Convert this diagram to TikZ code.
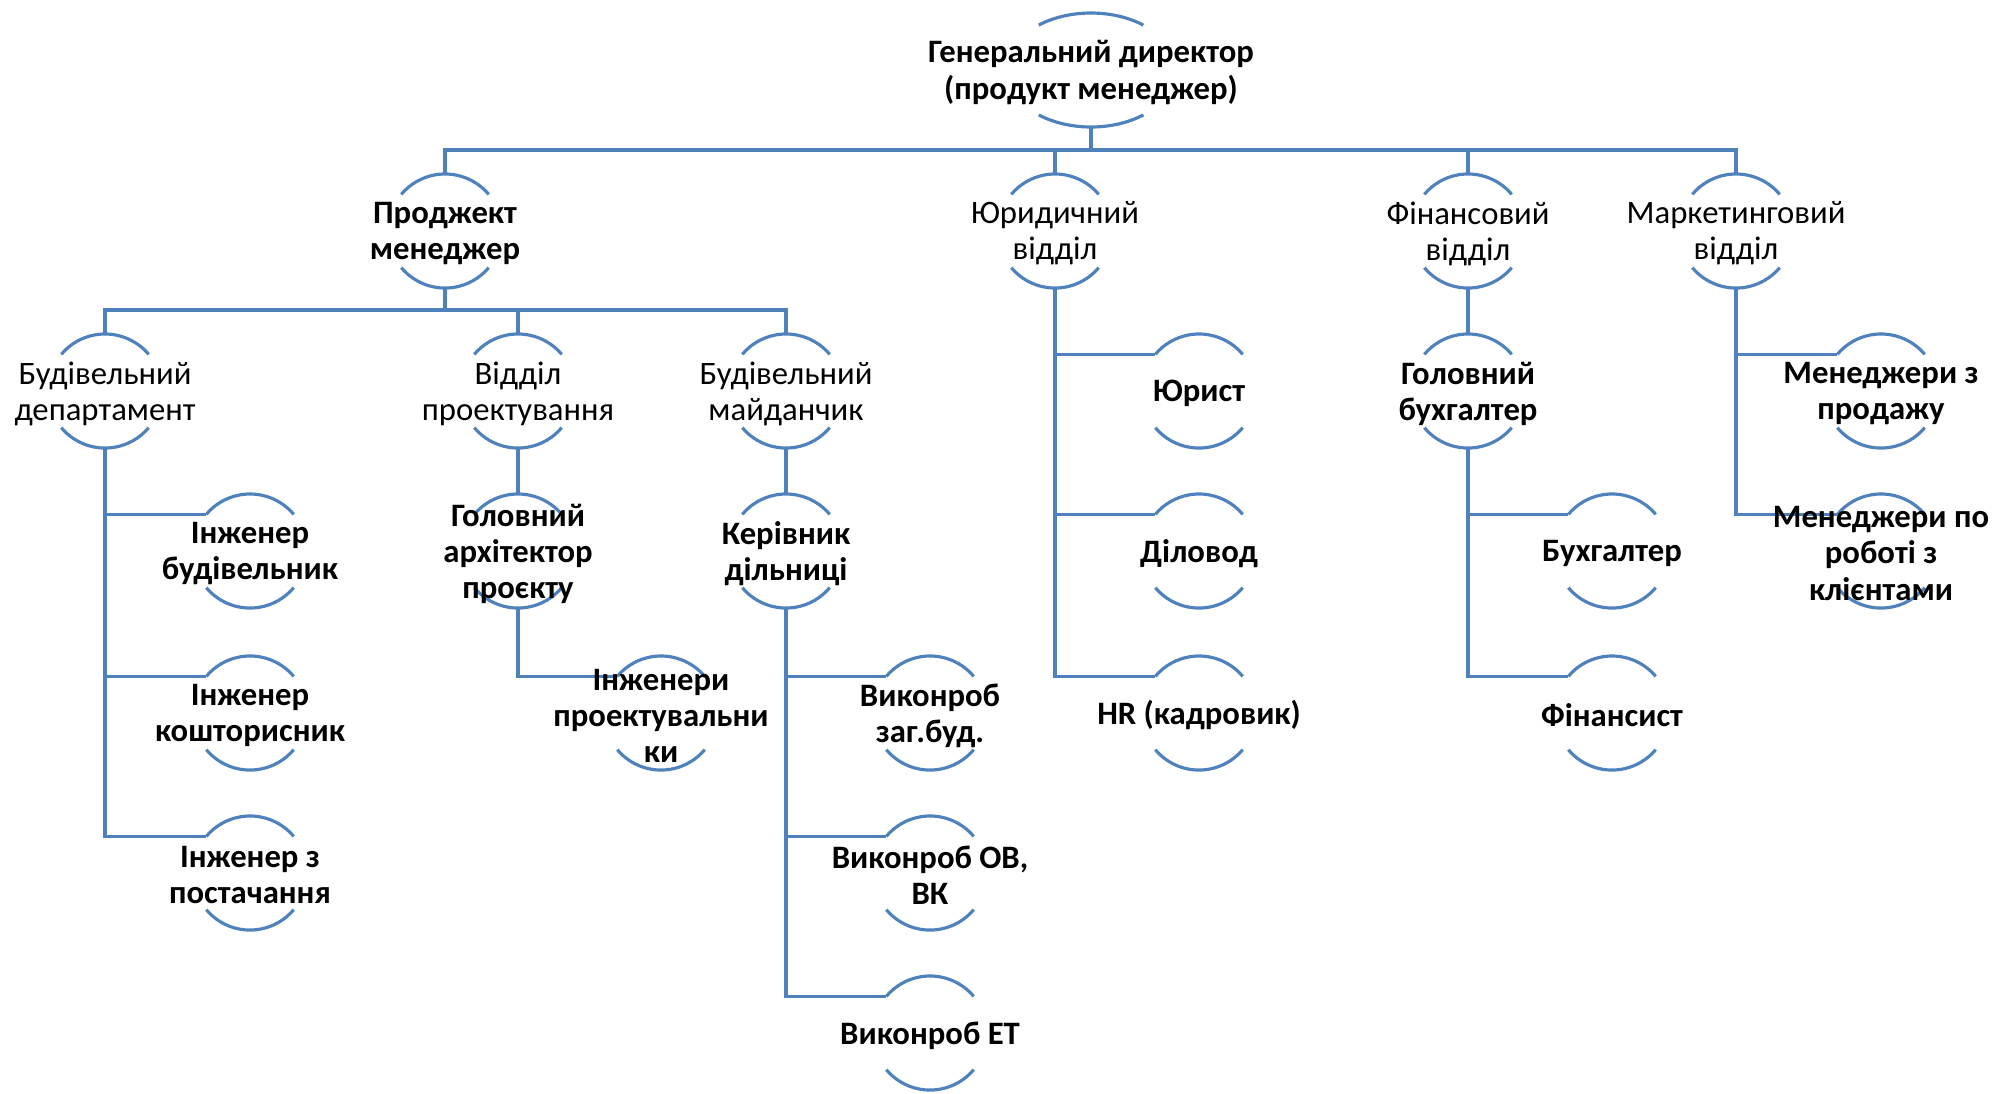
\documentclass[tikz,border=0pt]{standalone}
\usepackage{fontspec}
\setmainfont{Carlito}
\usepackage{tikz}
\usetikzlibrary{calc}

\definecolor{linkblue}{RGB}{79,129,189}

\tikzset{
    link/.style={draw=linkblue, line width=0.9pt},
    ring/.style={circle, minimum size=1.14cm, inner sep=0pt, outer sep=0pt},
    dept/.style={align=center, inner sep=0pt, yshift=-0.7pt, font=\fontsize{9.3}{10.25}\selectfont},
    staff/.style={dept, font=\fontsize{9.3}{10.25}\selectfont\bfseries},
}

% top and bottom arcs of a round node
\newcommand\ringarcs[1]{%
    \draw[link] (#1.40) arc[start angle=40, end angle=140, radius=0.57cm]
                (#1.220) arc[start angle=220, end angle=320, radius=0.57cm];}

\begin{document}
\begin{tikzpicture}[x=0.01cm, y=0.01cm]
    \useasboundingbox (0,0) rectangle (2010,-1093);

    % round nodes
    \node[ring] (ceo) at (1091,-70) {};
    \node[ring] (pm)  at (445,-231) {};
    \node[ring] (ju)  at (1055,-231) {};
    \node[ring] (fin) at (1468,-231) {};
    \node[ring] (mk)  at (1736,-231) {};
    \node[ring] (bd)  at (105,-391) {};
    \node[ring] (vp)  at (518,-391) {};
    \node[ring] (bm)  at (786,-391) {};
    \node[ring] (ib)  at (250,-551) {};
    \node[ring] (ik)  at (250,-713) {};
    \node[ring] (ip)  at (250,-873) {};
    \node[ring] (ga)  at (518,-551) {};
    \node[ring] (ipr) at (661,-713) {};
    \node[ring] (kd)  at (786,-551) {};
    \node[ring] (vz)  at (930,-713) {};
    \node[ring] (vo)  at (930,-873) {};
    \node[ring] (ve)  at (930,-1033) {};
    \node[ring] (yur) at (1199,-391) {};
    \node[ring] (dil) at (1199,-551) {};
    \node[ring] (hr)  at (1199,-713) {};
    \node[ring] (gb)  at (1468,-391) {};
    \node[ring] (bux) at (1612,-551) {};
    \node[ring] (fns) at (1612,-713) {};
    \node[ring] (mp)  at (1881,-391) {};
    \node[ring] (mkl) at (1881,-551) {};

    % the director is wider
    \draw[link] ($(ceo)+(52:85 and 57)$) arc[start angle=52, end angle=128, x radius=85, y radius=57]
                ($(ceo)+(232:85 and 57)$) arc[start angle=232, end angle=308, x radius=85, y radius=57];
    \foreach \n in {pm,ju,fin,mk,bd,vp,bm,ib,ik,ip,ga,ipr,kd,vz,vo,ve,yur,dil,hr,gb,bux,fns,mp,mkl}
        {\ringarcs{\n}}

    % connectors
    \coordinate (bar1) at (1091,-150);
    \coordinate (bar2) at (445,-310);
    \draw[link] (ceo.south) -- (bar1);
    \draw[link] (pm.north) |- (bar1) -| (mk.north);
    \draw[link] (ju.north) |- (bar1);
    \draw[link] (fin.north) |- (bar1);
    \draw[link] (pm.south) -- (bar2);
    \draw[link] (bd.north) |- (bar2) -| (bm.north);
    \draw[link] (vp.north) |- (bar2);
    \draw[link] (vp.south) -- (ga.north);
    \draw[link] (bm.south) -- (kd.north);
    \draw[link] (fin.south) -- (gb.north);
    \foreach \p/\c in {bd/ib, bd/ik, bd/ip, ga/ipr, kd/vz, kd/vo, kd/ve,
                       ju/yur, ju/dil, ju/hr, gb/bux, gb/fns, mk/mp, mk/mkl}
        \draw[link] (\p.south) |- (\c.140);

    % texts
    \node[staff] (ceo-t) at (ceo) {Генеральний директор\\(продукт менеджер)};
    \node[staff] (pm-t)  at (pm)  {Проджект\\менеджер};
    \node[dept]  (ju-t)  at (ju)  {Юридичний\\відділ};
    \node[dept]  (fin-t) at (fin) {Фінансовий\\відділ};
    \node[dept]  (mk-t)  at (mk)  {Маркетинговий\\відділ};
    \node[dept]  (bd-t)  at (bd)  {Будівельний\\департамент};
    \node[dept]  (vp-t)  at (vp)  {Відділ\\проектування};
    \node[dept]  (bm-t)  at (bm)  {Будівельний\\майданчик};
    \node[staff] (ib-t)  at (ib)  {Інженер\\будівельник};
    \node[staff] (ik-t)  at (ik)  {Інженер\\кошторисник};
    \node[staff] (ip-t)  at (ip)  {Інженер з\\постачання};
    \node[staff] (ga-t)  at (ga)  {Головний\\архітектор\\проєкту};
    \node[staff] (ipr-t) at (ipr) {Інженери\\проектувальни\\ки};
    \node[staff] (kd-t)  at (kd)  {Керівник\\дільниці};
    \node[staff] (vz-t)  at (vz)  {Виконроб\\заг.буд.};
    \node[staff] (vo-t)  at (vo)  {Виконроб ОВ,\\ВК};
    \node[staff] (ve-t)  at (ve)  {Виконроб ЕТ};
    \node[staff] (yur-t) at (yur) {Юрист};
    \node[staff] (dil-t) at (dil) {Діловод};
    \node[staff] (hr-t)  at (hr)  {HR (кадровик)};
    \node[staff] (gb-t)  at (gb)  {Головний\\бухгалтер};
    \node[staff] (bux-t) at (bux) {Бухгалтер};
    \node[staff] (fns-t) at (fns) {Фінансист};
    \node[staff] (mp-t)  at (mp)  {Менеджери з\\продажу};
    \node[staff] (mkl-t) at (mkl) {Менеджери по\\роботі з\\клієнтами};
\end{tikzpicture}
\end{document}
